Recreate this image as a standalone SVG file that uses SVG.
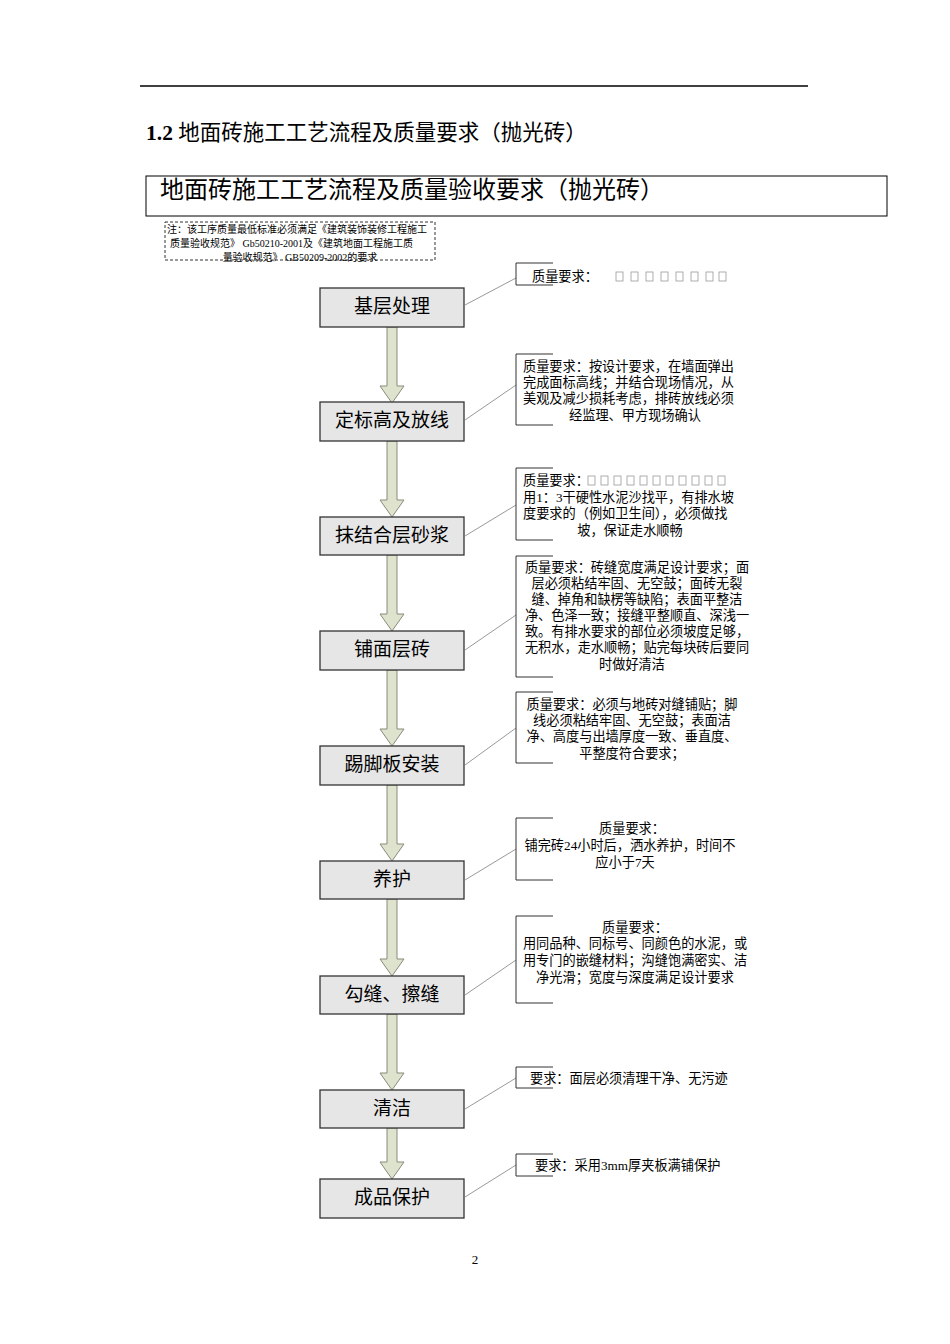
<svg xmlns="http://www.w3.org/2000/svg" width="950" height="1344" viewBox="0 0 950 1344">
<style>
text{font-family:"Liberation Serif","Noto Sans CJK SC",serif;fill:#000}
.box rect{fill:#e6e6e6;stroke:#333;stroke-width:1.3}
.box text{font-size:19px;text-anchor:middle}
.c{font-size:13.2px}
.m{text-anchor:middle}
.br{fill:none;stroke:#333;stroke-width:1}
.ln{stroke:#999;stroke-width:1;fill:none}
.ar{fill:#dde3cc;stroke:#8a8a7a;stroke-width:1}
.sq{fill:none;stroke:#999;stroke-width:0.8}
</style>
<rect width="950" height="1344" fill="#fff"/>
<line x1="140" y1="86" x2="808" y2="86" stroke="#000" stroke-width="1.5"/>
<text x="146" y="140" font-size="21.5"><tspan font-weight="bold">1.2</tspan> 地面砖施工工艺流程及质量要求（抛光砖）</text>
<rect x="146" y="176" width="741" height="40" fill="none" stroke="#000" stroke-width="1"/>
<text x="160" y="198" font-size="24">地面砖施工工艺流程及质量验收要求（抛光砖）</text>
<g id="note">
<rect x="165" y="222" width="270" height="38" fill="none" stroke="#333" stroke-dasharray="3,2"/>
<text x="167" y="233" font-size="10">注：该工序质量最低标准必须满足《建筑装饰装修工程施工</text>
<text x="170" y="247" font-size="10">质量验收规范》 Gb50210-2001及《建筑地面工程施工质</text>
<text x="300" y="261" font-size="10" class="m">量验收规范》 GB50209-2002的要求</text>
</g>
<g id="connectors">
<path class="ar" d="M387,327V386H380L392,403L404,386H397V327Z"/>
<path class="ar" d="M387,441V500H380L392,517L404,500H397V441Z"/>
<path class="ar" d="M387,555V614H380L392,631L404,614H397V555Z"/>
<path class="ar" d="M387,670V729H380L392,746L404,729H397V670Z"/>
<path class="ar" d="M387,785V844H380L392,861L404,844H397V785Z"/>
<path class="ar" d="M387,899V959H380L392,976L404,959H397V899Z"/>
<path class="ar" d="M387,1014V1073H380L392,1090L404,1073H397V1014Z"/>
<path class="ar" d="M387,1128V1162H380L392,1179L404,1162H397V1128Z"/>
<line class="ln" x1="465" y1="305" x2="516" y2="278"/>
<line class="ln" x1="465" y1="420" x2="516" y2="385"/>
<line class="ln" x1="465" y1="536" x2="516" y2="505"/>
<line class="ln" x1="465" y1="650" x2="516" y2="615"/>
<line class="ln" x1="465" y1="765" x2="516" y2="728"/>
<line class="ln" x1="465" y1="880" x2="516" y2="849"/>
<line class="ln" x1="465" y1="995" x2="516" y2="960"/>
<line class="ln" x1="465" y1="1109" x2="516" y2="1078"/>
<line class="ln" x1="465" y1="1197" x2="516" y2="1165"/>
</g>
<g id="n1" class="box"><rect x="320" y="288" width="144" height="39"/><text x="392" y="313">基层处理</text></g>
<g id="n2" class="box"><rect x="320" y="402" width="144" height="39"/><text x="392" y="427">定标高及放线</text></g>
<g id="n3" class="box"><rect x="320" y="517" width="144" height="38"/><text x="392" y="542">抹结合层砂浆</text></g>
<g id="n4" class="box"><rect x="320" y="631" width="144" height="39"/><text x="392" y="656">铺面层砖</text></g>
<g id="n5" class="box"><rect x="320" y="746" width="144" height="39"/><text x="392" y="771">踢脚板安装</text></g>
<g id="n6" class="box"><rect x="320" y="861" width="144" height="38"/><text x="392" y="886">养护</text></g>
<g id="n7" class="box"><rect x="320" y="976" width="144" height="38"/><text x="392" y="1001">勾缝、擦缝</text></g>
<g id="n8" class="box"><rect x="320" y="1090" width="144" height="38"/><text x="392" y="1115">清洁</text></g>
<g id="n9" class="box"><rect x="320" y="1179" width="144" height="39"/><text x="392" y="1204">成品保护</text></g>
<g id="q1"><path class="br" d="M553,263H516V285H553"/><text class="c" x="532" y="281">质量要求：</text>
<g class="sq"><rect x="616" y="272" width="7" height="9"/><rect x="631" y="272" width="7" height="9"/><rect x="646" y="272" width="7" height="9"/><rect x="661" y="272" width="7" height="9"/><rect x="676" y="272" width="7" height="9"/><rect x="691" y="272" width="7" height="9"/><rect x="706" y="272" width="7" height="9"/><rect x="719" y="272" width="7" height="9"/></g></g>
<g id="q2"><path class="br" d="M553,354H516V425H553"/>
<text class="c" x="523" y="371">质量要求：按设计要求，在墙面弹出</text>
<text class="c" x="523" y="387">完成面标高线；并结合现场情况，从</text>
<text class="c" x="523" y="403">美观及减少损耗考虑，排砖放线必须</text>
<text class="c m" x="635" y="420">经监理、甲方现场确认</text></g>
<g id="q3"><path class="br" d="M553,468H516V540H553"/>
<text class="c" x="523" y="485">质量要求：</text>
<g class="sq"><rect x="588" y="476" width="7" height="9"/><rect x="601" y="476" width="7" height="9"/><rect x="614" y="476" width="7" height="9"/><rect x="627" y="476" width="7" height="9"/><rect x="640" y="476" width="7" height="9"/><rect x="653" y="476" width="7" height="9"/><rect x="666" y="476" width="7" height="9"/><rect x="679" y="476" width="7" height="9"/><rect x="692" y="476" width="7" height="9"/><rect x="705" y="476" width="7" height="9"/><rect x="718" y="476" width="7" height="9"/></g>
<text class="c" x="523" y="502">用1：3干硬性水泥沙找平，有排水坡</text>
<text class="c" x="523" y="518">度要求的（例如卫生间），必须做找</text>
<text class="c m" x="630" y="535">坡，保证走水顺畅</text></g>
<g id="q4"><path class="br" d="M553,556H516V677H553"/>
<text class="c m" x="637" y="572">质量要求：砖缝宽度满足设计要求；面</text>
<text class="c m" x="637" y="588">层必须粘结牢固、无空鼓；面砖无裂</text>
<text class="c m" x="637" y="604">缝、掉角和缺楞等缺陷；表面平整洁</text>
<text class="c m" x="637" y="620">净、色泽一致；接缝平整顺直、深浅一</text>
<text class="c m" x="637" y="636">致。有排水要求的部位必须坡度足够，</text>
<text class="c m" x="637" y="652">无积水，走水顺畅；贴完每块砖后要同</text>
<text class="c m" x="632" y="669">时做好清洁</text></g>
<g id="q5"><path class="br" d="M553,692H516V763H553"/>
<text class="c m" x="632" y="709">质量要求：必须与地砖对缝铺贴；脚</text>
<text class="c m" x="632" y="725">线必须粘结牢固、无空鼓；表面洁</text>
<text class="c m" x="632" y="741">净、高度与出墙厚度一致、垂直度、</text>
<text class="c m" x="632" y="758">平整度符合要求；</text></g>
<g id="q6"><path class="br" d="M553,818H516V880H553"/>
<text class="c m" x="632" y="833">质量要求：</text>
<text class="c m" x="630" y="850">铺完砖24小时后，洒水养护，时间不</text>
<text class="c m" x="625" y="867">应小于7天</text></g>
<g id="q7"><path class="br" d="M553,916H516V1003H553"/>
<text class="c m" x="635" y="932">质量要求：</text>
<text class="c m" x="635" y="948">用同品种、同标号、同颜色的水泥，或</text>
<text class="c m" x="635" y="965">用专门的嵌缝材料；沟缝饱满密实、洁</text>
<text class="c m" x="635" y="982">净光滑；宽度与深度满足设计要求</text></g>
<g id="q8"><path class="br" d="M553,1067H516V1088H553"/>
<text class="c" x="530" y="1083">要求：面层必须清理干净、无污迹</text></g>
<g id="q9"><path class="br" d="M553,1154H516V1176H553"/>
<text class="c" x="535" y="1170">要求：采用3mm厚夹板满铺保护</text></g>
<text x="475" y="1264" font-size="13" class="m">2</text>
</svg>
